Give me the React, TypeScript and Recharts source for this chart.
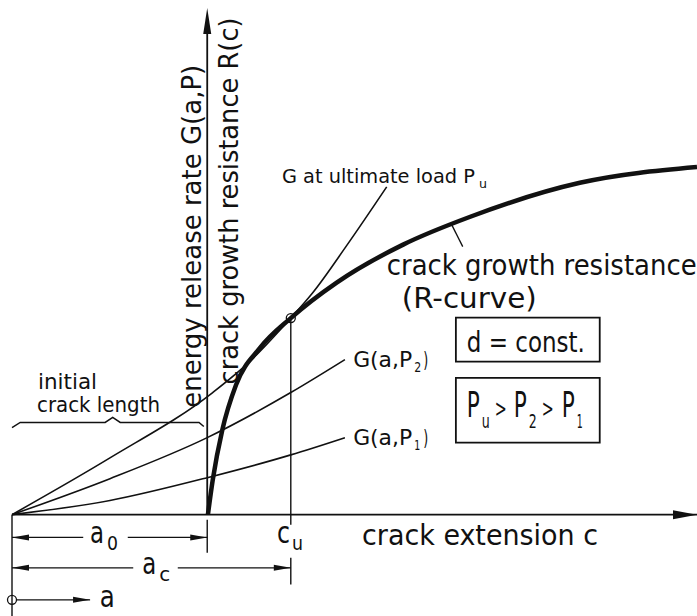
import React from "react";
import {
  ComposedChart, Line, XAxis, YAxis,
  ReferenceLine, ReferenceDot, ReferenceArea
} from "recharts";

// crack length a (0 = left end of the specimen) and the crack geometry
const A0 = 28.5; // initial crack length a0
const AC = 40.7; // critical crack length ac at ultimate load
const RU = 38.8; // resistance reached at ultimate load

// R-curve, starts at a0
const rCurve = [
  { a: 28.6, v: 0 }, { a: 29.3, v: 6.8 }, { a: 30.7, v: 16.7 }, { a: 32.7, v: 25.6 },
  { a: 36.2, v: 32.9 }, { a: 40.7, v: 38.8 }, { a: 47.4, v: 45.8 }, { a: 57.1, v: 53.3 },
  { a: 66.9, v: 58.8 }, { a: 82.9, v: 65.5 }, { a: 100, v: 68.6 },
];

// energy release rate curves G(a,P)
const gUlt = [
  { a: 0, v: 0 }, { a: 14.3, v: 11.2 }, { a: 29.3, v: 24.1 }, { a: 34.7, v: 30.2 },
  { a: 40.7, v: 38.8 }, { a: 43.9, v: 43.8 }, { a: 48.9, v: 53.2 }, { a: 54.7, v: 64.7 },
];
const gP2 = [
  { a: 0, v: 0 }, { a: 14.3, v: 7.1 }, { a: 28.5, v: 15.2 }, { a: 40.7, v: 24.1 }, { a: 48.6, v: 30.6 },
];
const gP1 = [
  { a: 0, v: 0 }, { a: 14.3, v: 2.8 }, { a: 28.5, v: 7.3 }, { a: 40.7, v: 11.8 }, { a: 48.6, v: 15.2 },
];

// brace over the initial crack length
const brace = [
  { a: 0, v: 17.2 }, { a: 1.2, v: 18.2 }, { a: 13.6, v: 18.2 }, { a: 14.7, v: 19.2 },
  { a: 15.8, v: 18.2 }, { a: 27.3, v: 18.2 }, { a: 28.0, v: 17.4 },
];

const INK = "#111";
const FONT = "'DejaVu Sans Condensed', 'DejaVu Sans', sans-serif";

// one-line text squeezed to a given width
const line = (t: string, size: number, w: number) => (p: any) => (
  <text x={p.cx} y={p.cy} fontSize={size} fontFamily={FONT} fill={INK}
    textLength={w} lengthAdjust="spacingAndGlyphs">
    {t}
  </text>
);

const vertical = (t: string, size: number, w: number) => (p: any) => (
  <text x={p.cx} y={p.cy} transform={`rotate(-90 ${p.cx} ${p.cy})`}
    fontSize={size} fontFamily={FONT} fill={INK}
    textLength={w} lengthAdjust="spacingAndGlyphs">
    {t}
  </text>
);

// text made of pieces (subscripts, second lines); sy stretches it vertically
type Piece = { t: string; x?: number; dy?: number; size: number; w: number };
const rich = (list: Piece[], sy = 1) => (p: any) => (
  <text fontFamily={FONT} fill={INK} transform={`translate(${p.cx},${p.cy}) scale(1,${sy})`}>
    {list.map((s, i) => (
      <tspan key={i} x={s.x || 0} y={(s.dy || 0) / sy} fontSize={s.size}
        textLength={s.w} lengthAdjust="spacingAndGlyphs">{s.t}</tspan>
    ))}
  </text>
);

const head = (dir: "l" | "r" | "u", len: number, half: number) => (p: any) => {
  const { cx, cy } = p;
  let pts = "";
  if (dir === "r") pts = `${cx},${cy} ${cx - len},${cy - half} ${cx - len},${cy + half}`;
  if (dir === "l") pts = `${cx},${cy} ${cx + len},${cy - half} ${cx + len},${cy + half}`;
  if (dir === "u") pts = `${cx},${cy} ${cx - half},${cy + len} ${cx + half},${cy + len}`;
  return <polygon points={pts} fill={INK} />;
};

const seg = (x1: number, y1: number, x2: number, y2: number, w = 1.4) => (
  <ReferenceLine segment={[{ x: x1, y: y1 }, { x: x2, y: y2 }]}
    stroke={INK} strokeWidth={w} ifOverflow="visible" />
);

const at = (x: number, y: number, shape: any) => (
  <ReferenceDot x={x} y={y} r={0} ifOverflow="visible" shape={shape} />
);

export default function App() {
  return (
    <div style={{ position: "absolute", left: 0, top: 0, background: "#fff" }}>
      <ComposedChart width={697} height={616} margin={{ top: 8, right: 0, bottom: 0, left: 12 }}>
        <XAxis type="number" dataKey="a" domain={[0, 100]} tickCount={5} hide />
        <YAxis type="number" domain={[-20, 100]} tickCount={7} hide />

        {/* axes */}
        {seg(0, 0, 100, 0, 1.8)}
        {seg(A0, 0, A0, 97, 1.8)}
        {at(100, 0, head("r", 24, 4.5))}
        {at(A0, 100, head("u", 26, 4))}

        {/* G curves */}
        <Line data={gP1} dataKey="v" type="monotone" stroke={INK} strokeWidth={1.6}
          dot={false} activeDot={false} isAnimationActive={false} />
        <Line data={gP2} dataKey="v" type="monotone" stroke={INK} strokeWidth={1.6}
          dot={false} activeDot={false} isAnimationActive={false} />
        <Line data={gUlt} dataKey="v" type="monotone" stroke={INK} strokeWidth={1.6}
          dot={false} activeDot={false} isAnimationActive={false} />
        <Line data={brace} dataKey="v" type="linear" stroke={INK} strokeWidth={1.5}
          dot={false} activeDot={false} isAnimationActive={false} />
        {/* R-curve */}
        <Line data={rCurve} dataKey="v" type="monotone" stroke={INK} strokeWidth={4.5}
          dot={false} activeDot={false} isAnimationActive={false} />

        {/* c_u marker */}
        {seg(AC, RU, AC, -2)}
        {seg(AC, -8.5, AC, -13.8)}
        <ReferenceDot x={AC} y={RU} r={4.5} fill="none" stroke={INK} strokeWidth={1.3} ifOverflow="visible" />

        {/* dimension lines */}
        {seg(0, 0, 0, -20)}
        {seg(A0, -1, A0, -7.5)}
        {seg(0, -4.5, 10.4, -4.5, 1.3)}
        {seg(16.9, -4.5, A0, -4.5, 1.3)}
        {at(0, -4.5, head("l", 17, 3))}
        {at(A0, -4.5, head("r", 17, 3))}
        {seg(0, -10.5, 17.7, -10.5, 1.3)}
        {seg(24.2, -10.5, AC, -10.5, 1.3)}
        {at(0, -10.5, head("l", 17, 3))}
        {at(AC, -10.5, head("r", 17, 3))}
        <ReferenceDot x={0} y={-16.8} r={4.5} fill="none" stroke={INK} strokeWidth={1.3} ifOverflow="visible" />
        {seg(0.7, -16.8, 11.4, -16.8, 1.3)}
        {at(11.4, -16.8, head("r", 17, 3))}

        {/* pointer to the R-curve */}
        {seg(64.2, 57.2, 65.8, 52.9, 1.3)}

        {/* boxes */}
        <ReferenceArea x1={64.8} x2={85.8} y1={30.2} y2={38.9} fill="none" fillOpacity={0}
          stroke={INK} strokeWidth={1.8} ifOverflow="visible" />
        <ReferenceArea x1={64.8} x2={85.8} y1={14.2} y2={27.0} fill="none" fillOpacity={0}
          stroke={INK} strokeWidth={1.8} ifOverflow="visible" />

        {/* texts */}
        {at(27.6, 21.1, vertical("energy release rate G(a,P)", 27, 343))}
        {at(33.0, 25.7, vertical("crack growth resistance R(c)", 27, 367))}
        {at(39.4, 65.5, rich([
          { t: "G at ultimate load P", size: 19, w: 193 },
          { t: "u", x: 197, dy: 5, size: 13, w: 8 },
        ]))}
        {at(54.7, 47.4, line("crack growth resistance", 29, 310))}
        {at(56.9, 40.7, line("(R-curve)", 29, 135))}
        {at(66.4, 32.2, line("d = const.", 29, 118))}
        {at(66.4, 19.3, rich([
          { t: "P", size: 24, w: 13 },
          { t: "u", x: 15, dy: 11, size: 14, w: 8 },
          { t: ">", x: 28, size: 17, w: 12 },
          { t: "P", x: 47, size: 24, w: 13 },
          { t: "2", x: 62, dy: 11, size: 14, w: 8 },
          { t: ">", x: 75, size: 17, w: 12 },
          { t: "P", x: 95, size: 24, w: 13 },
          { t: "1", x: 110, dy: 11, size: 14, w: 6 },
        ], 1.45))}
        {at(49.8, 29.2, rich([
          { t: "G(a,P", size: 22, w: 59 },
          { t: "2", x: 61, dy: 5, size: 14, w: 7 },
          { t: ")", x: 70, size: 22, w: 5 },
        ]))}
        {at(49.8, 13.8, rich([
          { t: "G(a,P", size: 22, w: 59 },
          { t: "1", x: 61, dy: 5, size: 14, w: 6 },
          { t: ")", x: 70, size: 22, w: 5 },
        ]))}
        {at(3.8, 24.9, rich([
          { t: "initial", size: 21, w: 59 },
          { t: "crack length", x: -1, dy: 23, size: 21, w: 123 },
        ]))}
        {at(11.4, -5.55, rich([
          { t: "a", size: 30, w: 14 },
          { t: "0", x: 17, dy: 7, size: 20, w: 11 },
        ]))}
        {at(19.0, -11.8, rich([
          { t: "a", size: 30, w: 14 },
          { t: "c", x: 17, dy: 7, size: 20, w: 11 },
        ]))}
        {at(38.7, -5.55, rich([
          { t: "c", size: 30, w: 13 },
          { t: "u", x: 15, dy: 7, size: 20, w: 11 },
        ]))}
        {at(12.8, -18.3, line("a", 30, 15))}
        {at(51.1, -5.9, line("crack extension c", 29, 236))}
      </ComposedChart>
    </div>
  );
}
